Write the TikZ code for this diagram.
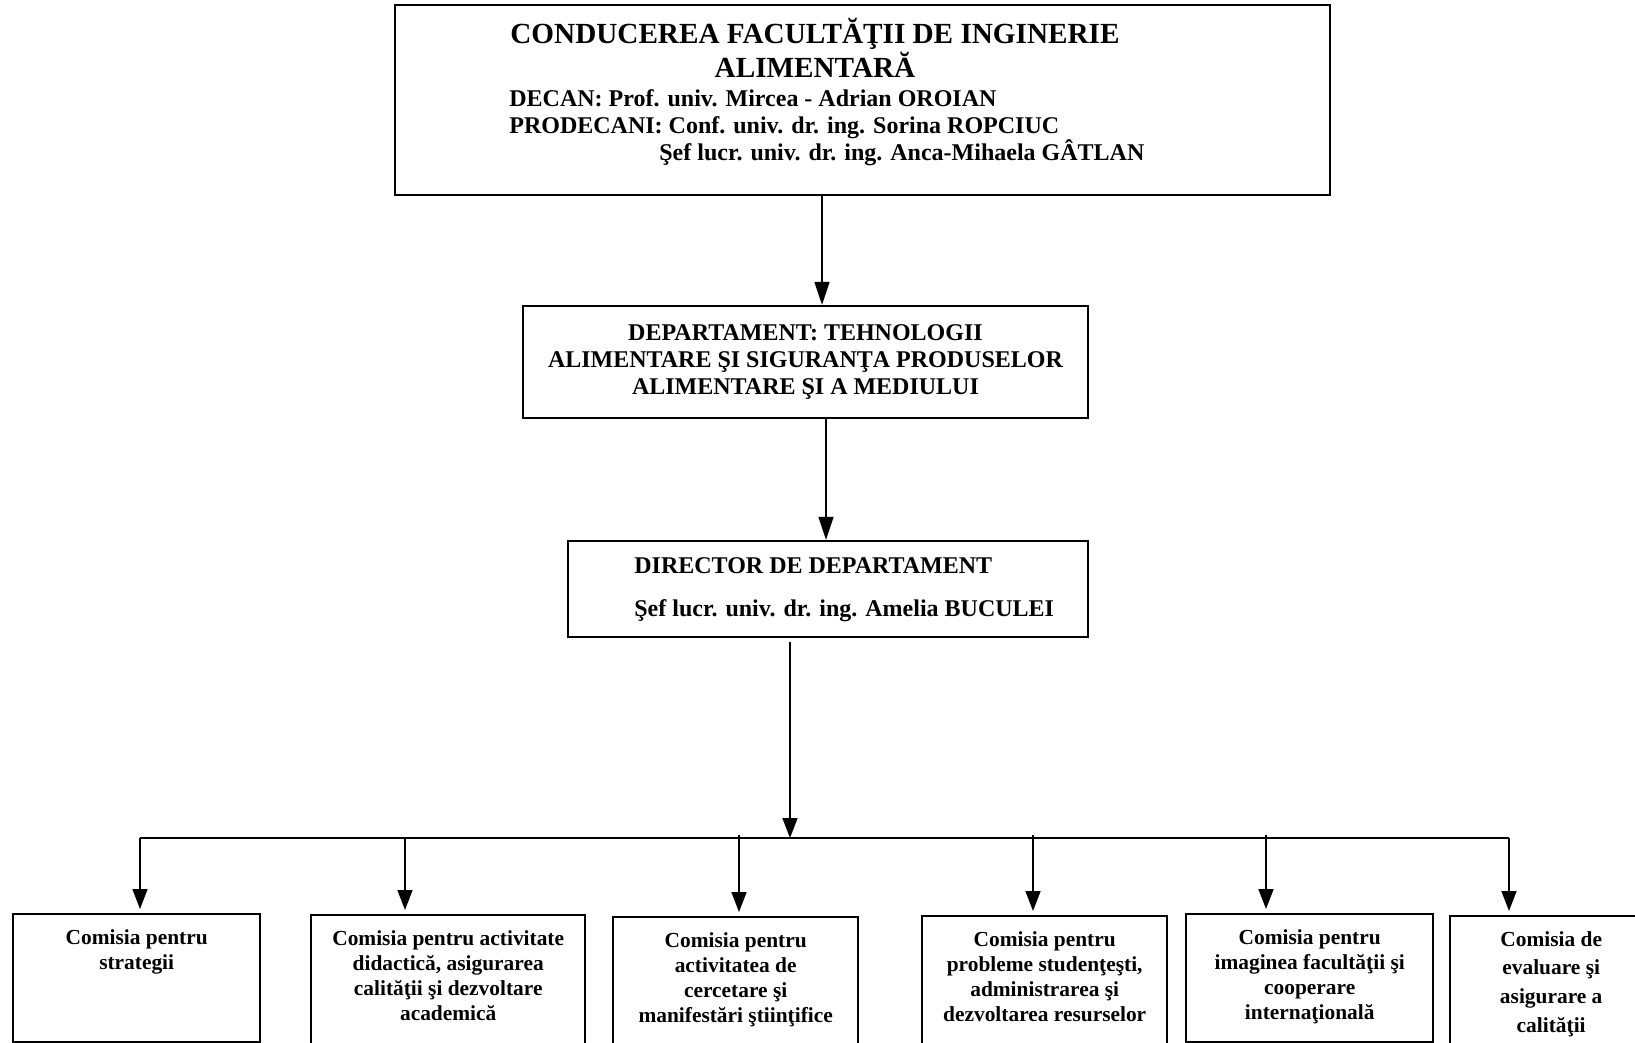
\documentclass[tikz,border=0pt]{standalone}
\usepackage{fontspec}
\setmainfont{Liberation Serif}
\usetikzlibrary{positioning,arrows.meta}

\begin{document}
\begin{tikzpicture}[x=0.5pt, y=-0.5pt,
  every node/.style = {font=\bfseries},
  casuta/.style = {shape=rectangle, draw, line width=1.2pt, inner sep=0pt},
  comisie/.style = {casuta, anchor=north west},
  textcom/.style = {align=center, inner sep=0pt,
    font=\bfseries\fontsize{10.7}{12.5}\selectfont},
  sageata/.style = {-{Triangle[length=10pt, width=7.5pt]}, line width=0.8pt}]
  \useasboundingbox (0,0) rectangle (1635,1043);

  % conducerea facultatii
  \node[casuta, minimum width=467.5pt, minimum height=95pt] (conducere) at (862.5,100) {};
  \node[align=center, inner sep=0pt, font=\bfseries\fontsize{14.6}{16.7}\selectfont]
    (titlu) at (815,48) {CONDUCEREA FACULTĂŢII DE INGINERIE\\ALIMENTARĂ};
  \node[align=left, inner sep=0pt, anchor=west, font=\bfseries\fontsize{12}{13.5}\selectfont]
    (decanat) at (509,128) {DECAN: Prof. univ. Mircea - Adrian OROIAN\\
    PRODECANI: Conf. univ. dr. ing. Sorina ROPCIUC\\
    \hspace*{75pt}Şef lucr. univ. dr. ing. Anca-Mihaela GÂTLAN};

  % departament si director
  \node[casuta, minimum width=282.5pt, minimum height=56pt, align=center,
    font=\bfseries\fontsize{12}{13.5}\selectfont] (departament) at (805.5,362)
    {DEPARTAMENT: TEHNOLOGII\\ALIMENTARE ŞI SIGURANŢA PRODUSELOR\\ALIMENTARE ŞI A MEDIULUI};
  \node[casuta, minimum width=260pt, minimum height=48pt] (director) at (828,589) {};
  \node[align=left, inner sep=0pt, anchor=west, font=\bfseries\fontsize{12}{21.5}\selectfont]
    (numedirector) at (634,590) {DIRECTOR DE DEPARTAMENT\\Şef lucr. univ. dr. ing. Amelia BUCULEI};

  % comisii
  \node[comisie, minimum width=123.5pt, minimum height=64pt] (c1) at (12,913) {};
  \node[comisie, minimum width=137pt, minimum height=73pt] (c2) at (310,914) {};
  \node[comisie, minimum width=122.5pt, minimum height=72pt] (c3) at (612,916) {};
  \node[comisie, minimum width=122.5pt, minimum height=72.5pt] (c4) at (921,915) {};
  \node[comisie, minimum width=123.5pt, minimum height=64pt] (c5) at (1185,913) {};
  \node[comisie, minimum width=101pt, minimum height=72.5pt] (c6) at (1449,915) {};

  \node[textcom, below=8pt of c1.north] (t1) {Comisia pentru\\strategii};
  \node[textcom, below=8pt of c2.north] (t2) {Comisia pentru activitate\\didactică, asigurarea\\calităţii şi dezvoltare\\academică};
  \node[textcom, below=8pt of c3.north] (t3) {Comisia pentru\\activitatea de\\cercetare şi\\manifestări ştiinţifice};
  \node[textcom, below=8pt of c4.north] (t4) {Comisia pentru\\probleme studenţeşti,\\administrarea şi\\dezvoltarea resurselor};
  \node[textcom, below=8pt of c5.north] (t5) {Comisia pentru\\imaginea facultăţii şi\\cooperare\\internaţională};
  \node[textcom, below=8pt of c6.north, font=\bfseries\fontsize{10.7}{14.3}\selectfont] (t6) {Comisia de\\evaluare şi\\asigurare a\\calităţii};

  % legaturi
  \coordinate (nod) at (790,838);
  \coordinate (b1) at (140,838);
  \coordinate (b2) at (405,838);
  \coordinate (b3) at (739,838);
  \coordinate (b4) at (1033,838);
  \coordinate (b5) at (1266,838);
  \coordinate (b6) at (1509,838);

  \draw[sageata, -{Triangle[length=11.5pt, width=7.5pt]}] ([xshift=-20.25pt]conducere.south) -- ([xshift=8.25pt]departament.north);
  \draw[sageata, -{Triangle[length=11.5pt, width=7.5pt]}] ([xshift=10.25pt]departament.south) -- ([xshift=-1pt]director.north);
  \draw[sageata, shorten <=2pt] ([xshift=-19pt]director.south) -- (nod);
  \draw[line width=1.3pt] (b1) -- (b6);
  \draw[sageata, shorten >=2pt] (b1) -- (b1 |- c1.north);
  \draw[sageata, shorten >=2pt] (b2) -- (b2 |- c2.north);
  \draw[sageata, shorten >=2pt] ([yshift=1.5pt]b3) -- (b3 |- c3.north);
  \draw[sageata, shorten >=2pt] ([yshift=1.5pt]b4) -- (b4 |- c4.north);
  \draw[sageata, shorten >=2pt] ([yshift=1.5pt]b5) -- (b5 |- c5.north);
  \draw[sageata, shorten >=2pt] (b6) -- (b6 |- c6.north);
\end{tikzpicture}
\end{document}
